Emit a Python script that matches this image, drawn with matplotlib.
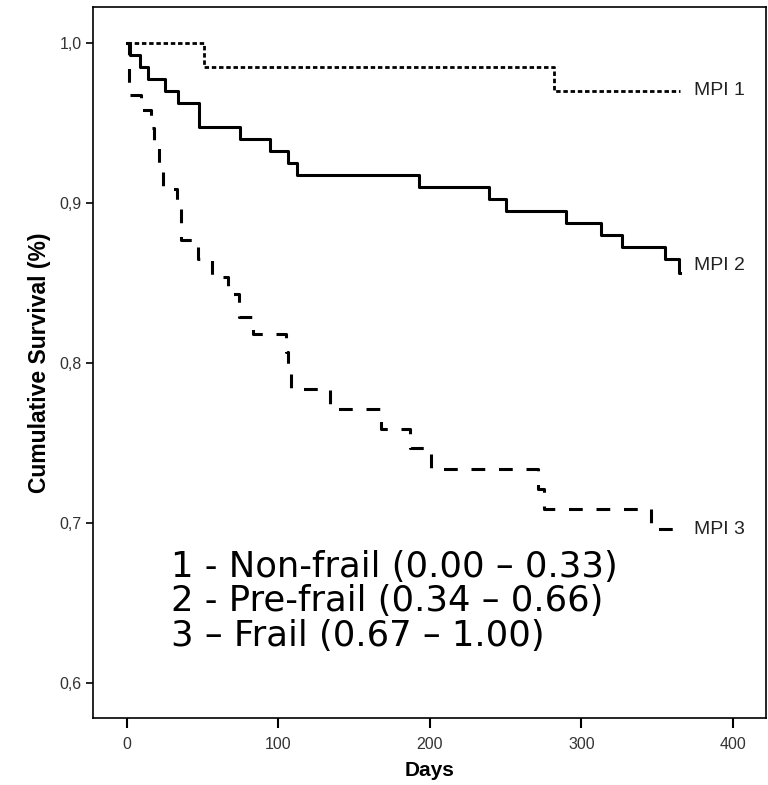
import matplotlib.pyplot as plt

# Kaplan-Meier steps (day of drop, survival after drop)
mpi1_days = [0, 51, 282, 365]
mpi1_surv = [1.0, 0.985, 0.970, 0.970]

mpi2_days = [0, 2, 8.5, 14, 25, 34, 47.5, 74.5, 94.5, 106, 112, 193, 239,
             250.5, 290, 313, 326.5, 355, 364.5, 365]
mpi2_surv = [1.0, 0.9925, 0.985, 0.9775, 0.970, 0.9625, 0.9475, 0.940, 0.9325,
             0.925, 0.9175, 0.910, 0.9025, 0.895, 0.8875, 0.880, 0.8725,
             0.865, 0.8565, 0.8565]

mpi3_days = [0, 1.5, 9, 16, 18, 21, 24, 33, 35.5, 47, 56, 66.5, 74, 83, 105,
             106, 108, 134, 167.5, 187, 201, 271, 275, 346, 365]
mpi3_surv = [1.0, 0.9675, 0.958, 0.947, 0.935, 0.922, 0.909, 0.897, 0.877,
             0.865, 0.854, 0.843, 0.829, 0.818, 0.807, 0.795, 0.784, 0.771,
             0.759, 0.747, 0.734, 0.721, 0.709, 0.696, 0.696]

group_names = ['MPI 1', 'MPI 2', 'MPI 3']
legend_lines = ['1 - Non-frail (0.00 \u2013 0.33)',
                '2 - Pre-frail (0.34 \u2013 0.66)',
                '3 \u2013 Frail (0.67 \u2013 1.00)']

x_ticks = [0, 100, 200, 300, 400]
y_ticks = [0.6, 0.7, 0.8, 0.9, 1.0]
y_tick_labels = ['0,6', '0,7', '0,8', '0,9', '1,0']

plt.rcParams['font.family'] = ['Liberation Sans', 'DejaVu Sans']

fig = plt.figure(figsize=(7.68, 7.85), dpi=100)
ax = fig.add_axes([0.1211, 0.0854, 0.8763, 0.9057])

ax.step(mpi1_days, mpi1_surv, where='post', color='black', lw=2.0,
        dashes=(1.6, 1.0))
ax.step(mpi2_days, mpi2_surv, where='post', color='black', lw=2.2)
ax.step(mpi3_days, mpi3_surv, where='post', color='black', lw=2.2,
        dashes=(4.5, 4.5))

# group labels at the curve ends
ax.text(374, mpi1_surv[-1], group_names[0], fontsize=14, va='center',
        color='#222222')
ax.text(374, mpi2_surv[-1] + 0.0045, group_names[1], fontsize=14,
        va='center', color='#222222')
ax.text(374, mpi3_surv[-1], group_names[2], fontsize=14, va='center',
        color='#222222')

for i, line in enumerate(legend_lines):
    ax.text(29, 0.6726 - i * 0.0216, line, fontsize=25.5, va='center',
            family=['DejaVu Sans'], color='black')

ax.set_xlim(-22.4, 421.8)
ax.set_ylim(0.5781, 1.0225)
ax.set_xticks(x_ticks)
ax.set_yticks(y_ticks)
ax.set_yticklabels(y_tick_labels)
ax.tick_params(axis='x', length=7, width=1.5, pad=7, labelsize=11.5,
               labelcolor='#333333')
ax.tick_params(axis='y', length=5, width=1.2, pad=3, labelsize=11.5,
               labelcolor='#333333')
for s in ax.spines.values():
    s.set_linewidth(1.2)

ax.set_xlabel('Days', fontsize=15, fontweight='bold', labelpad=6,
              family=['Liberation Sans Narrow', 'Liberation Sans'])
ax.set_ylabel('Cumulative Survival (%)', fontsize=16.5, fontweight='bold',
              labelpad=6, family=['Liberation Sans Narrow', 'Liberation Sans'])

plt.savefig('out.png', dpi=100)
